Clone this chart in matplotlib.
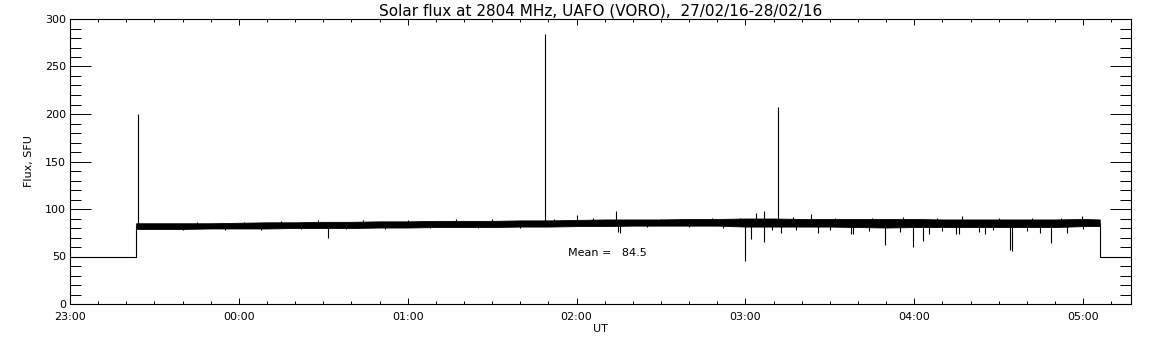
import matplotlib.pyplot as plt
from matplotlib.ticker import MultipleLocator, FuncFormatter

# time in minutes after 23:00 UT
# receiver off (base level) before start and after end
off_t1 = [0.0, 23.5, 23.5]
off_v1 = [50, 50, 82]
off_t2 = [365.9, 365.9, 377.0]
off_v2 = [84, 50, 50]

band_t = [23.5, 30, 40, 50, 60, 70, 80, 90, 100, 110, 120, 130, 140, 150, 160, 170,
          180, 190, 200, 210, 220, 230, 240, 250, 260, 270, 280, 290, 300, 310, 320,
          330, 340, 350, 360, 365.9]
band_hi = [85, 85, 85, 85, 85.5, 86, 86, 86.5, 86.5, 87, 87, 87.5, 87.5, 87.5, 88, 88,
           88.5, 89, 89, 89, 89.5, 89.5, 90, 90, 89.5, 89.5, 89.5, 89.5, 89.5, 89, 89,
           89, 89, 89, 89.5, 89]
band_lo = [79, 79, 79, 79.5, 79.5, 79.5, 80, 80, 80, 80.5, 80.5, 81, 81, 81, 81.5, 81.5,
           82, 82, 82.5, 82.5, 82.5, 82.5, 81.5, 81.5, 81.5, 81.5, 81, 80.5, 81, 81, 81,
           81, 81, 81, 82, 82]

# upward bursts and noise peaks
spike_t = [24.2, 168.9, 251.5, 180.2, 194.0, 243.8, 246.7, 263.3, 317.0, 359.5,
           45, 62, 75, 88, 104, 120, 137, 150, 172, 186, 210, 228, 238, 257, 272,
           285, 296, 308, 330, 342, 352]
spike_v = [200, 284, 207, 94, 97.5, 96, 98, 95, 92.5, 92.5,
           86, 86.5, 87, 88, 88, 88.5, 89, 89.5, 90, 91, 90, 90.5, 91, 92, 91,
           91, 91.5, 90.5, 91, 90.5, 91]

# downward dips
dip_t = [91.7, 194.6, 195.3, 240.0, 242.0, 246.7, 249.5, 252.7, 265.7, 277.6, 278.3,
         289.7, 299.4, 303.2, 305.3, 314.8, 316.0, 323.0, 325.0, 334.1, 334.6, 344.6,
         348.5, 354.3,
         40, 55, 68, 82, 98, 112, 128, 145, 160, 205, 220, 232, 258, 270, 284, 295,
         310, 328, 340, 360]
dip_v = [70, 76, 75, 45, 68, 65.5, 78, 75, 74.5, 74, 73.5, 62.5, 59.5, 66.5, 73.5, 74,
         73.5, 76, 74, 57, 56, 74.5, 64, 74.5,
         78, 77.5, 78, 78.5, 79, 79, 79.5, 80, 80, 81, 81, 80.5, 78, 78, 77, 76,
         77, 78, 77, 79]

mean_flux = 84.5

plt.rcParams['font.family'] = 'DejaVu Sans'
fig = plt.figure(figsize=(11.52, 3.45), dpi=100)
ax = fig.add_axes([70 / 1152, 41 / 345, 1061 / 1152, 285 / 345])

lw = 0.8
ax.plot(off_t1, off_v1, color='black', lw=lw)
ax.plot(off_t2, off_v2, color='black', lw=lw)
ax.fill_between(band_t, band_lo, band_hi, color='black', lw=0.6)
ax.vlines(spike_t, 84, spike_v, color='black', lw=lw)
ax.vlines(dip_t, dip_v, 84, color='black', lw=lw)

ax.text(176.8, 53.7, 'Mean =   %.1f' % mean_flux, fontsize=8, va='center', ha='left')

ax.set_xlim(0, 377)
ax.set_ylim(0, 300)

def hhmm(x, pos):
    m = int(round(x)) + 23 * 60
    return '%02d:%02d' % ((m // 60) % 24, m % 60)

ax.xaxis.set_major_locator(MultipleLocator(60))
ax.xaxis.set_minor_locator(MultipleLocator(10))
ax.xaxis.set_major_formatter(FuncFormatter(hhmm))
ax.yaxis.set_major_locator(MultipleLocator(50))
ax.yaxis.set_minor_locator(MultipleLocator(10))

ax.tick_params(axis='both', which='both', direction='in', top=True, right=True,
               labelsize=8, width=0.7, colors='black')
ax.tick_params(axis='x', which='major', length=4.1, pad=6)
ax.tick_params(axis='x', which='minor', length=2.1)
ax.tick_params(axis='y', which='major', length=15.1, pad=3)
ax.tick_params(axis='y', which='minor', length=7.6)
for s in ax.spines.values():
    s.set_linewidth(0.8)

ax.set_title('Solar flux at 2804 MHz, UAFO (VORO),  27/02/16-28/02/16', fontsize=11, pad=2)
ax.set_xlabel('UT', fontsize=8, labelpad=1)
ax.set_ylabel('Flux, SFU', fontsize=8, labelpad=8)

fig.savefig('out.png', dpi=100)
